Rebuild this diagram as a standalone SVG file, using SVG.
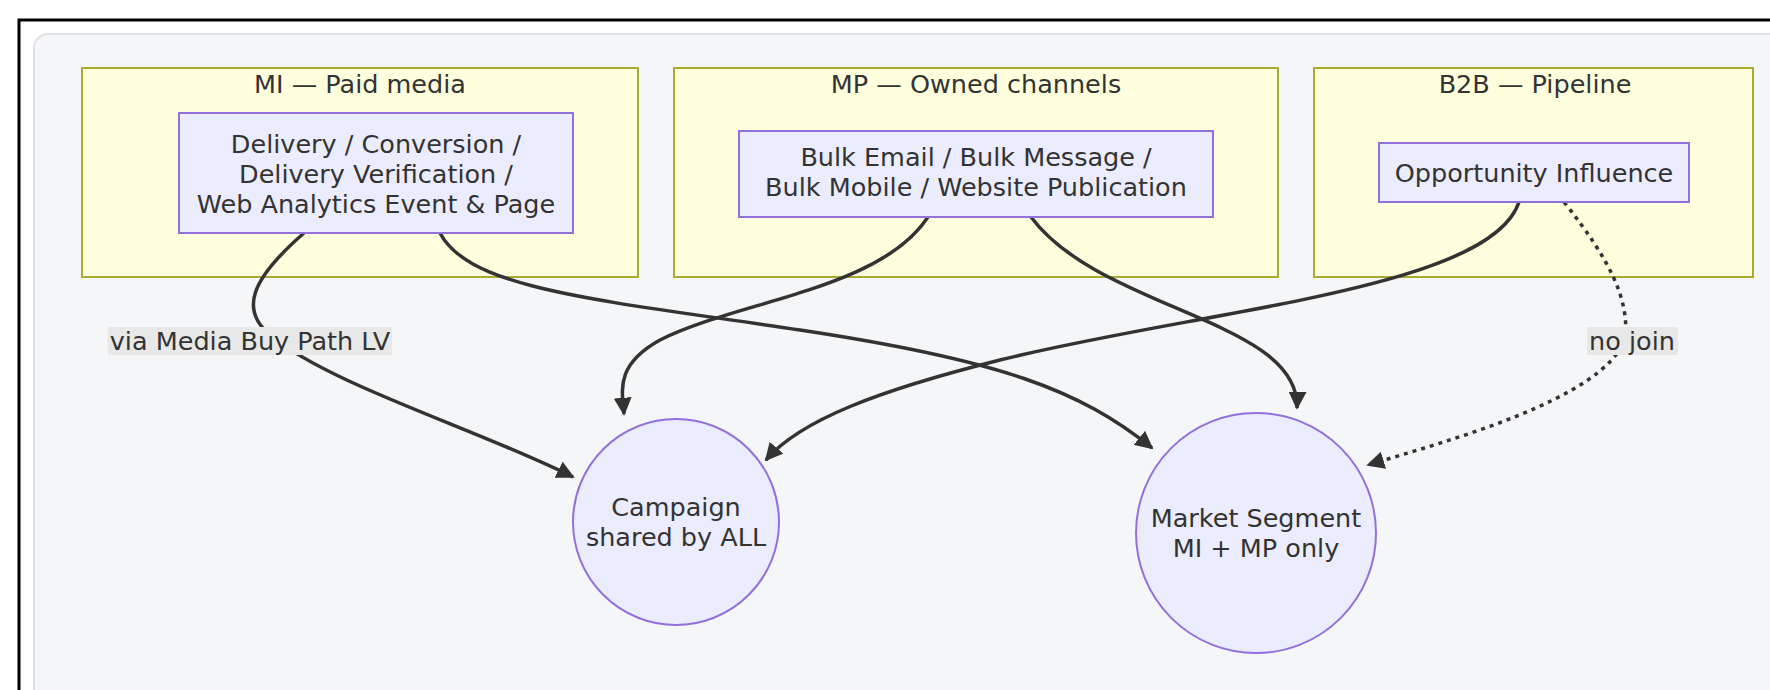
<svg xmlns="http://www.w3.org/2000/svg" width="1770" height="690" viewBox="0 0 1770 690">
<style>
text{font-family:"DejaVu Sans","Liberation Sans",sans-serif;font-size:25.5px;fill:#333;text-anchor:middle}
.grp{fill:#ffffde;stroke:#aaaa33;stroke-width:2}
.node{fill:#ececff;stroke:#9370db;stroke-width:2}
.edge{fill:none;stroke:#333;stroke-width:3.5}
.dash{stroke-dasharray:4 5}
.lbl{fill:#e8e8e8}
</style>
<defs>
<marker id="arr" viewBox="0 0 10 10" refX="9" refY="5" markerWidth="18" markerHeight="18" markerUnits="userSpaceOnUse" orient="auto"><path d="M0,0L10,5L0,10z" fill="#333"/></marker>
</defs>
<rect x="0" y="0" width="1770" height="690" fill="#fff"/>
<rect x="34" y="34" width="1760" height="700" rx="14" fill="#f5f6f8" stroke="#dfe1e5" stroke-width="2"/>
<path d="M19,690V20H1770" fill="none" stroke="#000" stroke-width="3"/>
<g id="MI"><rect class="grp" x="82" y="68" width="556" height="209"/><text x="360" y="93">MI — Paid media</text></g>
<g id="MP"><rect class="grp" x="674" y="68" width="604" height="209"/><text x="976" y="93">MP — Owned channels</text></g>
<g id="B2B"><rect class="grp" x="1314" y="68" width="439" height="209"/><text x="1535" y="93">B2B — Pipeline</text></g>
<g id="connectors">
<path class="edge" marker-end="url(#arr)" d="M304,233 C250,280 240,310 270,335 C330,385 480,430 573,477"/>
<path class="edge" marker-end="url(#arr)" d="M440,233 C470,290 600,300 800,330 C1000,360 1080,390 1152,448"/>
<path class="edge" marker-end="url(#arr)" d="M928,217 C880,290 740,300 660,340 C615,365 622,390 624,414"/>
<path class="edge" marker-end="url(#arr)" d="M1031,217 C1100,310 1300,320 1297,408"/>
<path class="edge" marker-end="url(#arr)" d="M1519,202 C1490,290 1200,310 1000,360 C880,390 800,420 766,460"/>
<path class="edge dash" marker-end="url(#arr)" d="M1564,202 C1610,260 1630,300 1625,340 C1600,400 1450,440 1368,465"/>
<rect class="lbl" x="108" y="327" width="284" height="28"/><text x="250" y="350">via Media Buy Path LV</text>
<rect class="lbl" x="1587" y="327" width="91" height="28"/><text x="1632" y="350">no join</text>
</g>
<g id="delivery"><rect class="node" x="179" y="113" width="394" height="120"/><text x="376" y="153">Delivery / Conversion /</text><text x="376" y="183">Delivery Verification /</text><text x="376" y="213">Web Analytics Event &amp; Page</text></g>
<g id="bulk"><rect class="node" x="739" y="131" width="474" height="86"/><text x="976" y="166">Bulk Email / Bulk Message /</text><text x="976" y="196">Bulk Mobile / Website Publication</text></g>
<g id="opp"><rect class="node" x="1379" y="143" width="310" height="59"/><text x="1534" y="182">Opportunity Influence</text></g>
<g id="campaign"><circle class="node" cx="676" cy="522" r="103"/><text x="676" y="516">Campaign</text><text x="676" y="546">shared by ALL</text></g>
<g id="segment"><circle class="node" cx="1256" cy="533" r="120"/><text x="1256" y="527">Market Segment</text><text x="1256" y="557">MI + MP only</text></g>
</svg>
